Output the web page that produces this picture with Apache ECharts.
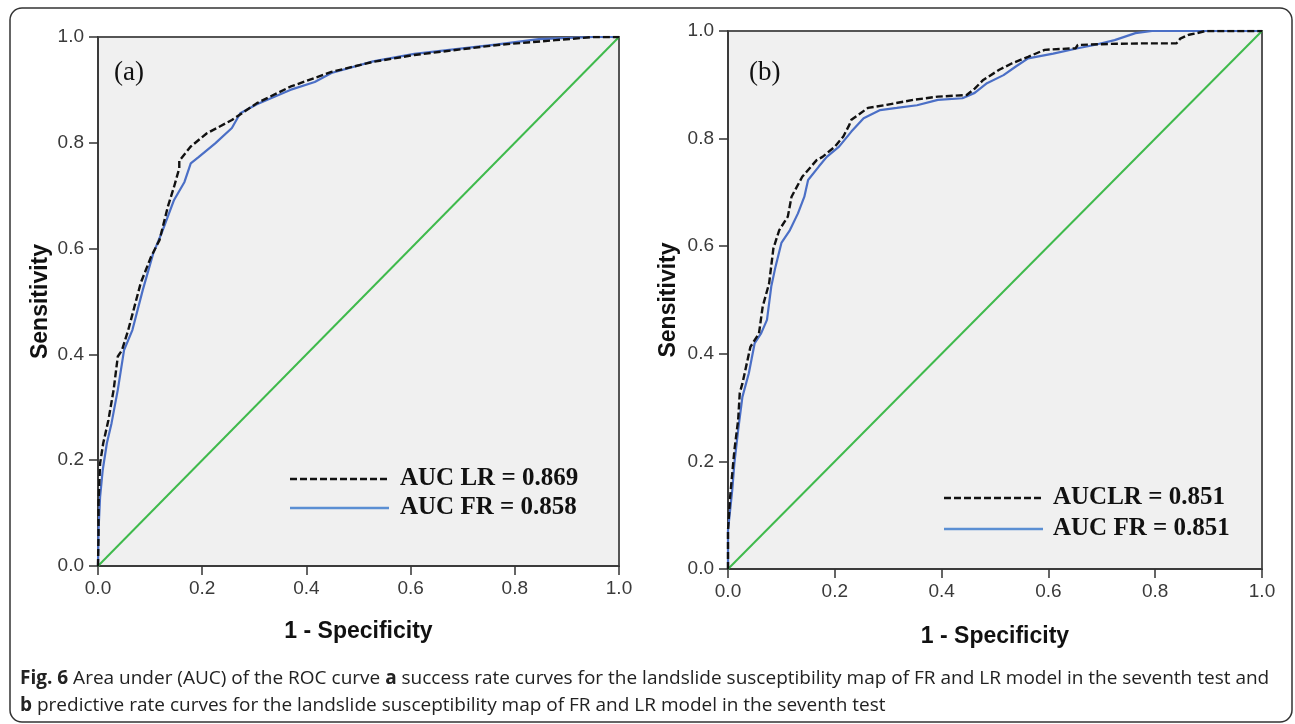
<!DOCTYPE html>
<html>
<head>
<meta charset="utf-8">
<script src="https://cdn.jsdelivr.net/npm/echarts@6/dist/echarts.min.js"></script>
<style>
html,body{margin:0;padding:0;background:#fff;}
#c{width:1295px;height:724px;}
</style>
</head>
<body>
<div id="c"></div>
<script>
// ---- data ----
const tickLabels = ['0.0', '0.2', '0.4', '0.6', '0.8', '1.0'];
const diagonal = [[0, 0], [1, 1]];

// (a) success rate curves
const lrA = [[0,0],[0.001,0.06],[0.001,0.118],[0.004,0.194],[0.010,0.232],[0.020,0.276],[0.030,0.333],[0.038,0.396],[0.046,0.408],[0.058,0.446],[0.082,0.535],[0.102,0.585],[0.118,0.616],[0.134,0.679],[0.146,0.717],[0.156,0.752],[0.156,0.766],[0.178,0.793],[0.209,0.818],[0.257,0.843],[0.305,0.875],[0.369,0.906],[0.448,0.934],[0.528,0.953],[0.607,0.966],[0.767,0.985],[0.878,0.994],[0.95,1.0],[1,1]];
const frA = [[0,0],[0.001,0.068],[0.004,0.130],[0.009,0.181],[0.017,0.232],[0.026,0.270],[0.038,0.333],[0.050,0.408],[0.066,0.446],[0.086,0.522],[0.106,0.591],[0.122,0.629],[0.146,0.692],[0.166,0.726],[0.178,0.761],[0.193,0.773],[0.225,0.799],[0.257,0.828],[0.273,0.856],[0.305,0.873],[0.369,0.900],[0.416,0.915],[0.448,0.932],[0.528,0.954],[0.607,0.968],[0.767,0.986],[0.846,0.996],[0.95,1.0],[1,1]];

// (b) predictive rate curves
const lrB = [[0,0],[0,0.072],[0.004,0.134],[0.008,0.178],[0.012,0.221],[0.019,0.277],[0.022,0.327],[0.027,0.345],[0.042,0.413],[0.058,0.438],[0.065,0.488],[0.077,0.531],[0.085,0.596],[0.096,0.630],[0.112,0.655],[0.119,0.692],[0.139,0.729],[0.166,0.760],[0.177,0.766],[0.200,0.785],[0.216,0.804],[0.227,0.825],[0.231,0.835],[0.262,0.857],[0.293,0.862],[0.347,0.872],[0.393,0.878],[0.447,0.881],[0.462,0.893],[0.478,0.909],[0.508,0.928],[0.532,0.940],[0.562,0.952],[0.593,0.965],[0.651,0.968],[0.655,0.974],[0.716,0.976],[0.778,0.977],[0.840,0.977],[0.847,0.986],[0.863,0.993],[0.878,0.996],[0.894,1.0],[1,1]];
const frB = [[0,0],[0,0.072],[0.008,0.147],[0.012,0.197],[0.019,0.258],[0.027,0.320],[0.039,0.364],[0.050,0.420],[0.062,0.438],[0.073,0.463],[0.081,0.525],[0.089,0.562],[0.100,0.606],[0.116,0.630],[0.131,0.661],[0.143,0.692],[0.150,0.723],[0.170,0.748],[0.185,0.766],[0.208,0.785],[0.231,0.813],[0.254,0.838],[0.285,0.853],[0.316,0.857],[0.354,0.862],[0.393,0.872],[0.439,0.875],[0.462,0.885],[0.485,0.903],[0.516,0.918],[0.539,0.934],[0.562,0.949],[0.609,0.958],[0.655,0.968],[0.686,0.974],[0.724,0.983],[0.763,0.996],[0.794,1.0],[1,1]];

const legendA = ['AUC LR = 0.869', 'AUC FR = 0.858'];
const legendB = ['AUCLR = 0.851', 'AUC FR = 0.851'];
const panelLabels = ['(a)', '(b)'];
const xTitle = '1 - Specificity';
const yTitle = 'Sensitivity';
const captionLine1 = '{b|Fig. 6} Area under (AUC) of the ROC curve {b|a} success rate curves for the landslide susceptibility map of FR and LR model in the seventh test and';
const captionLine2 = '{b|b} predictive rate curves for the landslide susceptibility map of FR and LR model in the seventh test';

// ---- styles ----
const BLACK = '#111111', BLUE = '#4b6fc6', BLUE_LEG = '#5b8fd3', GREEN = '#3fba4c';
const tickFont = { fontFamily: 'Liberation Sans', fontSize: 19, color: '#3a3a3a' };
const titleFont = { fontFamily: 'Liberation Sans', fontSize: 23, fontWeight: 'bold', color: '#111' };

function xAxisCfg(gi, gap) {
  return {
    type: 'value', gridIndex: gi, min: 0, max: 1, interval: 0.2,
    name: xTitle, nameLocation: 'middle', nameGap: gap, nameTextStyle: titleFont,
    axisLine: { show: true, lineStyle: { color: '#333', width: 1.5 } },
    axisTick: { show: true, length: 9, lineStyle: { color: '#333', width: 1.5 } },
    axisLabel: Object.assign({ margin: 13, formatter: (v) => tickLabels[Math.round(v / 0.2)] }, tickFont),
    splitLine: { show: false }
  };
}
function yAxisCfg(gi, gap) {
  return {
    type: 'value', gridIndex: gi, min: 0, max: 1, interval: 0.2,
    name: yTitle, nameLocation: 'middle', nameGap: gap, nameRotate: 90, nameTextStyle: titleFont,
    axisLine: { show: true, lineStyle: { color: '#333', width: 1.5 } },
    axisTick: { show: true, length: 9, lineStyle: { color: '#333', width: 1.5 } },
    axisLabel: Object.assign({ margin: 14, formatter: (v) => tickLabels[Math.round(v / 0.2)] }, tickFont),
    splitLine: { show: false }
  };
}
function lineSeries(data, gi, color, width, type, z) {
  return {
    type: 'line', xAxisIndex: gi, yAxisIndex: gi, data: data, showSymbol: false, symbol: 'none',
    lineStyle: { color: color, width: width, type: type }, z: z, animation: false, silent: true
  };
}
function legendGraphics(labels, x0, x1, tx, y1, y2) {
  const out = [];
  const ys = [y1, y2];
  const styles = [{ stroke: BLACK, lineWidth: 2.4, lineDash: [7, 3] }, { stroke: BLUE_LEG, lineWidth: 2.4 }];
  for (let i = 0; i < 2; i++) {
    out.push({ type: 'line', shape: { x1: x0, y1: ys[i], x2: x1, y2: ys[i] }, style: styles[i], z: 100 });
    out.push({ type: 'text', x: tx, y: ys[i], style: { text: labels[i], font: 'bold 25px "Liberation Serif"', fill: '#111', textVerticalAlign: 'middle' }, z: 100 });
  }
  return out;
}
const captionRich = { b: { fontWeight: 'bold', fontFamily: 'Open Sans', fontSize: 19, fill: '#222' } };

const chart = echarts.init(document.getElementById('c'), null, { renderer: 'canvas' });
const graphics = [
  { type: 'rect', shape: { x: 10, y: 8, width: 1282, height: 714, r: 12 }, style: { fill: 'none', stroke: '#333', lineWidth: 1.5 }, z: 0 },
  { type: 'text', x: 114, y: 73, style: { text: panelLabels[0], font: '27px "Liberation Serif"', fill: '#111', textVerticalAlign: 'middle' }, z: 100 },
  { type: 'text', x: 749, y: 73, style: { text: panelLabels[1], font: '27px "Liberation Serif"', fill: '#111', textVerticalAlign: 'middle' }, z: 100 },
  { type: 'text', x: 20, y: 679, style: { text: captionLine1, rich: captionRich, font: '19px "Open Sans"', fill: '#222', textVerticalAlign: 'middle' }, z: 100 },
  { type: 'text', x: 20, y: 706, style: { text: captionLine2, rich: captionRich, font: '19px "Open Sans"', fill: '#222', textVerticalAlign: 'middle' }, z: 100 }
].concat(legendGraphics(legendA, 290, 389, 400, 479, 508))
 .concat(legendGraphics(legendB, 944, 1043, 1053, 498, 529));

chart.setOption({
  animation: false,
  backgroundColor: '#fff',
  grid: [
    { left: 98, top: 37, width: 521, height: 529, show: true, backgroundColor: '#f0f0f0', borderColor: '#555', borderWidth: 2 },
    { left: 728, top: 31, width: 534, height: 538, show: true, backgroundColor: '#f0f0f0', borderColor: '#555', borderWidth: 2 }
  ],
  xAxis: [xAxisCfg(0, 54), xAxisCfg(1, 56)],
  yAxis: [yAxisCfg(0, 46), yAxisCfg(1, 48)],
  series: [
    lineSeries(diagonal, 0, GREEN, 2, 'solid', 2),
    lineSeries(frA, 0, BLUE, 2.2, 'solid', 3),
    lineSeries(lrA, 0, BLACK, 2.4, [7, 3], 4),
    lineSeries(diagonal, 1, GREEN, 2, 'solid', 2),
    lineSeries(frB, 1, BLUE, 2.2, 'solid', 3),
    lineSeries(lrB, 1, BLACK, 2.4, [7, 3], 4)
  ],
  graphic: graphics
});
</script>
</body>
</html>
